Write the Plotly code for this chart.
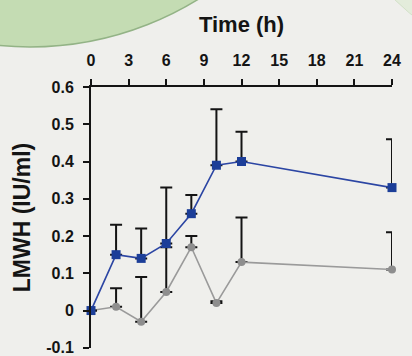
import plotly.graph_objects as go

# ---- data ----
time_h = [0, 2, 4, 6, 8, 10, 12, 24]
blue_vals = [0.0, 0.15, 0.14, 0.18, 0.26, 0.39, 0.40, 0.33]
blue_err = [None, 0.08, 0.08, 0.15, 0.05, 0.15, 0.08, 0.13]
gray_vals = [0.0, 0.01, -0.03, 0.05, 0.17, 0.02, 0.13, 0.11]
gray_err = [None, 0.05, 0.12, 0.12, 0.03, 0.005, 0.12, 0.10]
x_ticks = [0, 3, 6, 9, 12, 15, 18, 21, 24]
y_ticks = [-0.1, 0, 0.1, 0.2, 0.3, 0.4, 0.5, 0.6]
y_ticktext = ["-0.1", "0", "0.1", "0.2", "0.3", "0.4", "0.5", "0.6"]

W, H = 412, 356
L, R, T, B = 91, 20, 87, 8
pw, ph = W - L - R, H - T - B


def px2paper_x(px):
    return (px - L) / pw


def px2paper_y(py):
    return (H - B - py) / ph


FONT = "Liberation Sans"
INK = "#141414"

fig = go.Figure()

fig.add_trace(go.Scatter(
    x=time_h, y=gray_vals, mode="lines+markers",
    line=dict(color="#9a9a9a", width=1.6),
    marker=dict(symbol="circle", size=8, color="#8e8e8e"),
    error_y=dict(type="data", array=gray_err, arrayminus=[0] * len(gray_err),
                 symmetric=False, color=INK, thickness=2, width=6),
    cliponaxis=False, showlegend=False,
))
fig.add_trace(go.Scatter(
    x=time_h, y=blue_vals, mode="lines+markers",
    line=dict(color="#2b45a3", width=1.6),
    marker=dict(symbol="square", size=9, color="#1c3e98"),
    error_y=dict(type="data", array=blue_err, arrayminus=[0] * len(blue_err),
                 symmetric=False, color=INK, thickness=2, width=6),
    cliponaxis=False, showlegend=False,
))

shapes = [
    # big green disc, top-left
    dict(type="circle", xref="paper", yref="paper", layer="below",
         x0=px2paper_x(30 - 320), x1=px2paper_x(30 + 320),
         y0=px2paper_y(-273 + 320), y1=px2paper_y(-273 - 320),
         fillcolor="#c4dcb3", line=dict(color="#93b386", width=1.5)),
    # faint disc, top-right corner
    dict(type="circle", xref="paper", yref="paper", layer="below",
         x0=px2paper_x(560 - 237), x1=px2paper_x(560 + 237),
         y0=px2paper_y(-170 + 237), y1=px2paper_y(-170 - 237),
         fillcolor="#e3ecdb", line=dict(color="#d2e0c8", width=1)),
]

fig.update_layout(
    width=W, height=H,
    margin=dict(l=L, r=R, t=T, b=B, pad=0, autoexpand=False),
    paper_bgcolor="#efefec", plot_bgcolor="rgba(0,0,0,0)",
    font=dict(family=FONT, color=INK),
    shapes=shapes,
    xaxis=dict(
        range=[0, 24], side="top", tickvals=x_ticks, automargin=False,
        showline=True, linecolor=INK, linewidth=2,
        ticks="outside", ticklen=6, tickwidth=1.5, tickcolor=INK,
        showgrid=False, zeroline=False,
        tickfont=dict(family=FONT, size=16, color=INK, weight="bold"),
        ticklabelstandoff=7, ticklabeloverflow="allow",
        title=dict(text="<b>Time (h)</b>", font=dict(family=FONT, size=22, color=INK),
                   standoff=13),
    ),
    yaxis=dict(
        range=[-0.1005, 0.6], tickvals=y_ticks, ticktext=y_ticktext, automargin=False,
        showline=True, linecolor=INK, linewidth=2,
        ticks="outside", ticklen=6, tickwidth=1.5, tickcolor=INK,
        showgrid=False, zeroline=False,
        tickfont=dict(family=FONT, size=16, color=INK, weight="bold"),
        ticklabelstandoff=6, ticklabeloverflow="allow",
        title=dict(text="<b>LMWH (IU/ml)</b>", font=dict(family=FONT, size=23, color=INK),
                   standoff=9),
    ),
)

fig.write_html("out.html", config={"displayModeBar": False},
               post_script="document.body.style.margin='0';document.body.style.overflow='hidden';")
